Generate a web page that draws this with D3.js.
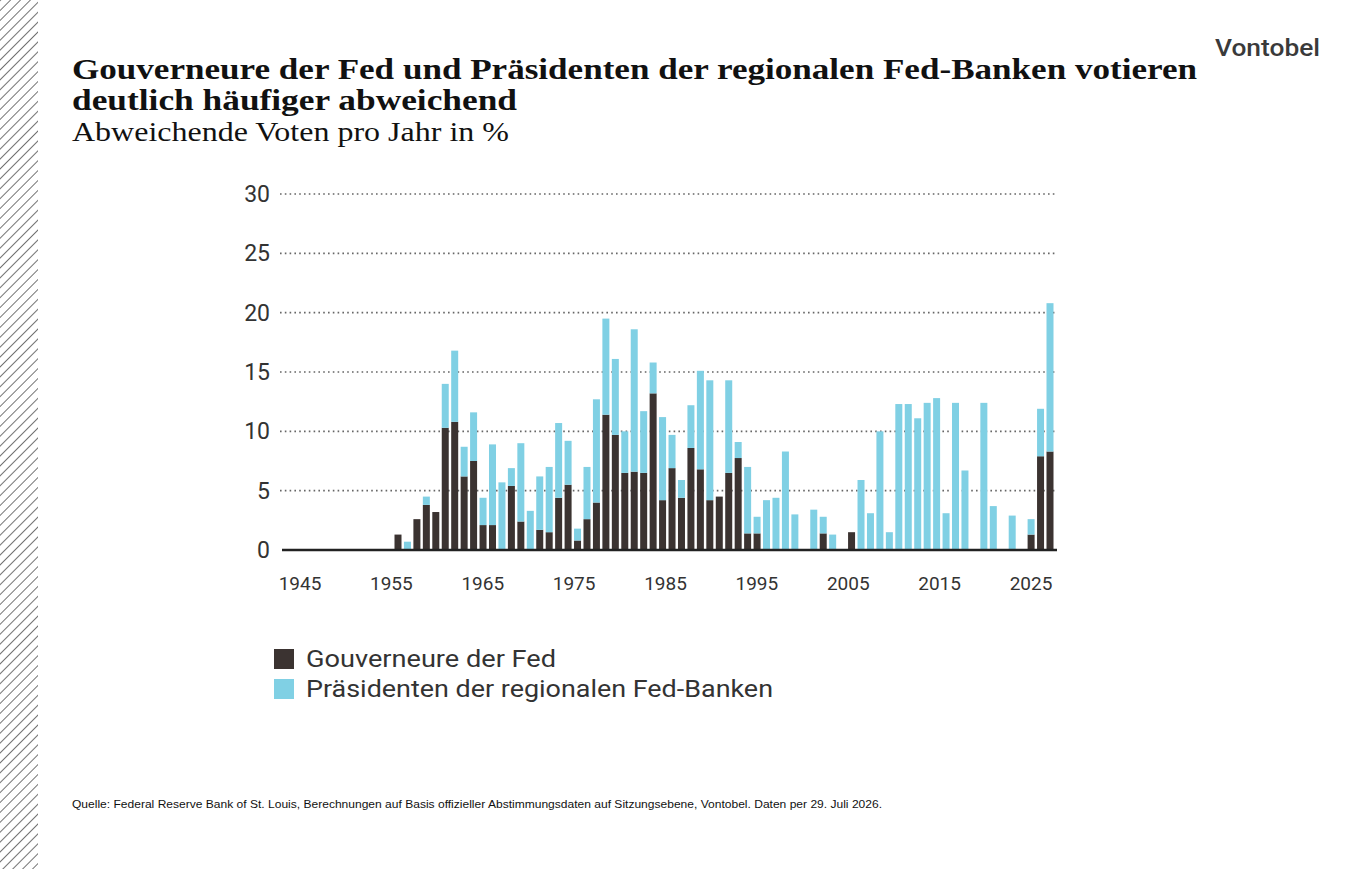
<!DOCTYPE html>
<html><head><meta charset="utf-8">
<script src="https://cdn.jsdelivr.net/npm/d3@7"></script>
<style>body{margin:0;background:#fff}svg{display:block}</style>
</head><body><svg id="c" width="1365" height="869"></svg>
<script>
const years = d3.range(1956, 2026);
const governors = [1.3,0,2.6,3.8,3.2,10.3,10.8,6.2,7.5,2.1,2.1,0,5.4,2.4,0,1.7,1.5,4.4,5.5,0.8,2.6,4.0,11.4,9.7,6.5,6.6,6.5,13.2,4.2,6.9,
4.4,8.6,6.8,4.2,4.5,6.5,7.75,1.4,1.4,0,0,0,0,0,0,1.4,0,0,1.5,0,0,0,0,0,0,0,0,0,0,0,0,0,0,0,0,0,0,1.3,7.9,8.3];
const totals = [1.3,0.7,2.6,4.5,3.2,14.0,16.8,8.7,11.6,4.4,8.9,5.7,6.9,9.0,3.3,6.2,7.0,10.7,9.2,1.8,7.0,12.7,19.5,16.1,10.0,18.6,11.7,15.8,11.2,9.7,
5.9,12.2,15.1,14.3,4.5,14.3,9.1,7.0,2.8,4.2,4.4,8.3,3.0,0,3.4,2.8,1.3,0,1.5,5.9,3.1,10.0,1.5,12.3,12.3,11.1,12.4,12.8,3.1,12.4,6.7,0,12.4,3.7,0,2.9,0,2.6,11.9,20.8];
const presidents = totals.map((t,i)=>Math.max(0, +(t-governors[i]).toFixed(2)));
const xTicks = [1945,1955,1965,1975,1985,1995,2005,2015,2025];
const yTicks = [0,5,10,15,20,25,30];

const svg = d3.select('#c');
const defs = svg.append('defs');
const p = defs.append('pattern').attr('id','h').attr('width',7).attr('height',7)
  .attr('patternUnits','userSpaceOnUse').attr('patternTransform','rotate(45)');
p.append('line').attr('x1',0).attr('y1',0).attr('x2',0).attr('y2',7).attr('stroke','#444').attr('stroke-width',1.5);
svg.append('rect').attr('x',0).attr('y',0).attr('width',38).attr('height',869).attr('fill','url(#h)');

svg.append('text').attr('x',1215).attr('y',56).attr('font-family','Roboto, sans-serif').attr('font-weight',500)
  .attr('font-size',24).attr('fill','#3a3a3a').attr('textLength',105).attr('lengthAdjust','spacingAndGlyphs').text('Vontobel');
const tf = "'Liberation Serif', 'DejaVu Serif', serif";
svg.append('text').attr('x',72).attr('y',79).attr('font-family',tf).attr('font-weight','bold').attr('font-size',29).attr('fill','#111')
  .attr('textLength',1125).attr('lengthAdjust','spacingAndGlyphs')
  .text('Gouverneure der Fed und Präsidenten der regionalen Fed-Banken votieren');
svg.append('text').attr('x',72).attr('y',110).attr('font-family',tf).attr('font-weight','bold').attr('font-size',29).attr('fill','#111')
  .attr('textLength',445).attr('lengthAdjust','spacingAndGlyphs')
  .text('deutlich häufiger abweichend');
svg.append('text').attr('x',72).attr('y',141).attr('font-family',tf).attr('font-size',28).attr('fill','#111')
  .attr('textLength',437).attr('lengthAdjust','spacingAndGlyphs')
  .text('Abweichende Voten pro Jahr in %');

const x = d3.scaleLinear().domain([1956, 2025]).range([398, 1050]);
const y = d3.scaleLinear().domain([0, 30]).range([550, 194]);
const sans = "Roboto, 'Open Sans', sans-serif";

const g = svg.append('g');
g.selectAll('line.grid').data(yTicks.filter(d=>d>0)).join('line')
  .attr('x1',280).attr('x2',1057).attr('y1',d=>y(d)).attr('y2',d=>y(d))
  .attr('stroke','#666').attr('stroke-width',1.6).attr('stroke-dasharray','1.6,3.2');
g.selectAll('text.yt').data(yTicks).join('text')
  .attr('x',270).attr('y',d=>y(d)+8).attr('text-anchor','end')
  .attr('font-family',sans).attr('font-size',23).attr('fill','#333').text(d=>d);

const bw = 7;
g.selectAll('rect.gov').data(years).join('rect')
  .attr('x',(d)=>x(d)-bw/2).attr('width',bw)
  .attr('y',(d,i)=>y(governors[i])).attr('height',(d,i)=>y(0)-y(governors[i]))
  .attr('fill','#3b3331');
g.selectAll('rect.pres').data(years).join('rect')
  .attr('x',(d)=>x(d)-bw/2).attr('width',bw)
  .attr('y',(d,i)=>y(governors[i]+presidents[i])).attr('height',(d,i)=>y(0)-y(presidents[i]))
  .attr('fill','#80d0e4');

g.append('line').attr('x1',282).attr('x2',1057).attr('y1',y(0)).attr('y2',y(0)).attr('stroke','#222').attr('stroke-width',2.5);
const xl = d3.scaleLinear().domain([1945, 2025]).range([300, 1031]);
g.selectAll('text.xt').data(xTicks).join('text')
  .attr('x',d=>xl(d)).attr('y',590).attr('text-anchor','middle')
  .attr('font-family',sans).attr('font-size',19).attr('fill','#333').text(d=>d);

const legend = [['Gouverneure der Fed','#3b3331',250],['Präsidenten der regionalen Fed-Banken','#80d0e4',467]];
legend.forEach((l,i)=>{
  svg.append('rect').attr('x',274).attr('y',649+i*30).attr('width',20).attr('height',20).attr('fill',l[1]);
  svg.append('text').attr('x',306).attr('y',667+i*30).attr('font-family',sans).attr('font-size',24).attr('fill','#333')
    .attr('textLength',l[2]).attr('lengthAdjust','spacingAndGlyphs').text(l[0]);
});
svg.append('text').attr('x',72).attr('y',808).attr('font-family',"'Liberation Sans', Arial, sans-serif").attr('font-size',11).attr('fill','#111')
  .attr('textLength',810).attr('lengthAdjust','spacingAndGlyphs')
  .text('Quelle: Federal Reserve Bank of St. Louis, Berechnungen auf Basis offizieller Abstimmungsdaten auf Sitzungsebene, Vontobel. Daten per 29. Juli 2026.');
</script></body></html>
